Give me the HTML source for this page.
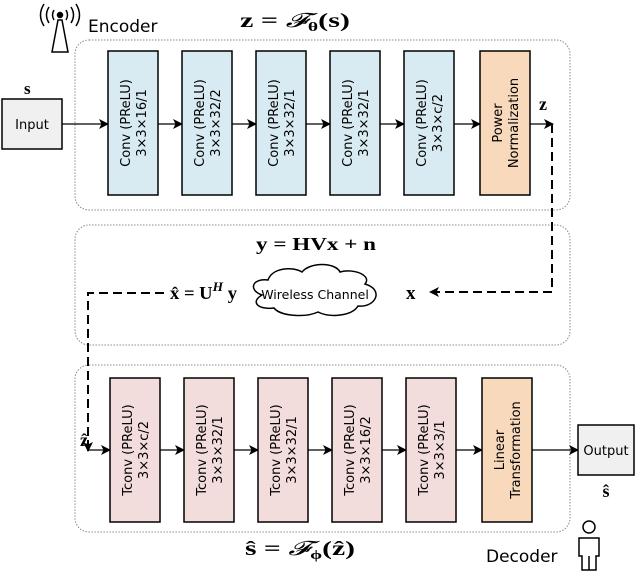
<!DOCTYPE html>
<html><head><style>
body{margin:0;background:#fff;}
svg text{font-family:"DejaVu Sans","Liberation Sans",sans-serif;}
.m{font-family:"Liberation Serif",serif;font-weight:bold;}
</style></head><body>
<svg width="640" height="574" viewBox="0 0 640 574" xmlns="http://www.w3.org/2000/svg">
<defs>
<marker id="a" markerWidth="10" markerHeight="10" refX="9" refY="5" orient="auto" markerUnits="userSpaceOnUse"><path d="M0,0 L10,5 L0,10 L2.5,5 Z" fill="#000"/></marker>
</defs>
<g fill="none" stroke="#888" stroke-width="1" stroke-dasharray="1.5,1.5">
<rect x="75" y="40" width="495" height="170" rx="14"/>
<rect x="75" y="225" width="495" height="120" rx="14"/>
<rect x="75" y="365" width="495" height="167" rx="14"/>
</g>
<g stroke="#000" stroke-width="1.5" fill="none">
<path d="M52,52 L58,20 L62,20 L68,52 Z"/>
<circle cx="60" cy="15" r="2.5" fill="#000"/>
<path d="M54,10 Q51,15 54,20 M66,10 Q69,15 66,20 M49,7 Q44,15 49,23 M71,7 Q76,15 71,23 M44,4 Q37,15 44,26 M76,4 Q83,15 76,26"/>
</g>
<text x="88" y="32" font-size="17">Encoder</text>
<text x="240" y="27" class="m" font-size="20" textLength="110" lengthAdjust="spacingAndGlyphs">z = <tspan font-style="italic" font-weight="normal">𝓕</tspan><tspan font-size="13" dy="4">θ</tspan><tspan dy="-4">(s)</tspan></text>
<text x="24" y="94" class="m" font-size="17">s</text>
<rect x="2" y="99" width="60" height="50" fill="#f0f0f0" stroke="#000" stroke-width="1.5"/>
<text x="32" y="129" font-size="13" text-anchor="middle">Input</text>
<g stroke="#000" stroke-width="1.3" marker-end="url(#a)">
<line x1="62" y1="124" x2="108" y2="124"/>
<line x1="158" y1="124" x2="182" y2="124"/>
<line x1="232" y1="124" x2="256" y2="124"/>
<line x1="306" y1="124" x2="330" y2="124"/>
<line x1="380" y1="124" x2="404" y2="124"/>
<line x1="454" y1="124" x2="480" y2="124"/>
<line x1="530" y1="124" x2="553" y2="124"/>
</g>
<g stroke="#000" stroke-width="1.5">
<rect x="108" y="51" width="50" height="144" fill="#d9ebf2"/>
<rect x="182" y="51" width="50" height="144" fill="#d9ebf2"/>
<rect x="256" y="51" width="50" height="144" fill="#d9ebf2"/>
<rect x="330" y="51" width="50" height="144" fill="#d9ebf2"/>
<rect x="404" y="51" width="50" height="144" fill="#d9ebf2"/>
<rect x="480" y="51" width="50" height="144" fill="#f9d9bc"/>
</g>
<g font-size="13" text-anchor="middle">
<text transform="translate(133,123) rotate(-90)"><tspan x="0" dy="-3">Conv (PReLU)</tspan><tspan x="0" dy="16">3×3×16/1</tspan></text>
<text transform="translate(207,123) rotate(-90)"><tspan x="0" dy="-3">Conv (PReLU)</tspan><tspan x="0" dy="16">3×3×32/2</tspan></text>
<text transform="translate(281,123) rotate(-90)"><tspan x="0" dy="-3">Conv (PReLU)</tspan><tspan x="0" dy="16">3×3×32/1</tspan></text>
<text transform="translate(355,123) rotate(-90)"><tspan x="0" dy="-3">Conv (PReLU)</tspan><tspan x="0" dy="16">3×3×32/1</tspan></text>
<text transform="translate(429,123) rotate(-90)"><tspan x="0" dy="-3">Conv (PReLU)</tspan><tspan x="0" dy="16">3×3×c/2</tspan></text>
<text transform="translate(505,123) rotate(-90)"><tspan x="0" dy="-3">Power</tspan><tspan x="0" dy="16">Normalization</tspan></text>
</g>
<text x="539" y="110" class="m" font-size="18">z</text>
<g stroke="#000" stroke-width="2" fill="none" stroke-dasharray="9,5">
<polyline points="552,124 552,292 430,292" marker-end="url(#a)"/>
<polyline points="164,293 88,293 88,445"/>
</g>
<path d="M88,440 L88,451" stroke="#000" stroke-width="2" marker-end="url(#a)"/>
<text x="406" y="299" class="m" font-size="19">x</text>
<text x="256" y="250" class="m" font-size="18" textLength="120" lengthAdjust="spacingAndGlyphs">y = HVx + n</text>
<path d="M262,295 C248,290 252,278 268,280 C272,268 292,266 302,272 C310,262 335,262 340,272 C355,268 372,276 365,284 C385,290 375,308 358,306 C352,316 330,318 318,312 C305,318 280,316 274,308 C258,310 250,302 262,295 Z" fill="#fff" stroke="#000" stroke-width="1.5"/>
<text x="315" y="299" font-size="12.5" text-anchor="middle">Wireless Channel</text>
<text x="170" y="299" class="m" font-size="18" textLength="67" lengthAdjust="spacingAndGlyphs">x̂ = U<tspan font-size="13" dy="-8" font-style="italic">H</tspan><tspan dy="8"> y</tspan></text>
<text x="80" y="446" class="m" font-size="18">ẑ</text>
<g stroke="#000" stroke-width="1.3" marker-end="url(#a)">
<line x1="88" y1="450" x2="110" y2="450"/>
<line x1="160" y1="450" x2="184" y2="450"/>
<line x1="234" y1="450" x2="258" y2="450"/>
<line x1="308" y1="450" x2="332" y2="450"/>
<line x1="382" y1="450" x2="406" y2="450"/>
<line x1="456" y1="450" x2="482" y2="450"/>
<line x1="532" y1="450" x2="578" y2="450"/>
</g>
<g stroke="#000" stroke-width="1.5">
<rect x="110" y="378" width="50" height="144" fill="#f3dcdc"/>
<rect x="184" y="378" width="50" height="144" fill="#f3dcdc"/>
<rect x="258" y="378" width="50" height="144" fill="#f3dcdc"/>
<rect x="332" y="378" width="50" height="144" fill="#f3dcdc"/>
<rect x="406" y="378" width="50" height="144" fill="#f3dcdc"/>
<rect x="482" y="378" width="50" height="144" fill="#f9d9bc"/>
</g>
<g font-size="13" text-anchor="middle">
<text transform="translate(135,450) rotate(-90)"><tspan x="0" dy="-3">Tconv (PReLU)</tspan><tspan x="0" dy="16">3×3×c/2</tspan></text>
<text transform="translate(209,450) rotate(-90)"><tspan x="0" dy="-3">Tconv (PReLU)</tspan><tspan x="0" dy="16">3×3×32/1</tspan></text>
<text transform="translate(283,450) rotate(-90)"><tspan x="0" dy="-3">Tconv (PReLU)</tspan><tspan x="0" dy="16">3×3×32/1</tspan></text>
<text transform="translate(357,450) rotate(-90)"><tspan x="0" dy="-3">Tconv (PReLU)</tspan><tspan x="0" dy="16">3×3×16/2</tspan></text>
<text transform="translate(431,450) rotate(-90)"><tspan x="0" dy="-3">Tconv (PReLU)</tspan><tspan x="0" dy="16">3×3×3/1</tspan></text>
<text transform="translate(507,450) rotate(-90)"><tspan x="0" dy="-3">Linear</tspan><tspan x="0" dy="16">Transformation</tspan></text>
</g>
<rect x="578" y="425" width="56" height="50" fill="#f0f0f0" stroke="#000" stroke-width="1.5"/>
<text x="606" y="455" font-size="13" text-anchor="middle">Output</text>
<text x="606" y="497" class="m" font-size="18" text-anchor="middle">ŝ</text>
<text x="245" y="555" class="m" font-size="20" textLength="110" lengthAdjust="spacingAndGlyphs">ŝ = <tspan font-style="italic" font-weight="normal">𝓕</tspan><tspan font-size="13" dy="4">ϕ</tspan><tspan dy="-4">(ẑ)</tspan></text>
<text x="486" y="562" font-size="17">Decoder</text>
<g stroke="#000" stroke-width="1.5" fill="#fff">
<circle cx="589" cy="527" r="6"/>
<path d="M579,538 L599,538 L599,556 L596,556 L596,570 L582,570 L582,556 L579,556 Z"/>
<line x1="589" y1="556" x2="589" y2="570"/>
</g>
</svg>
</body></html>
